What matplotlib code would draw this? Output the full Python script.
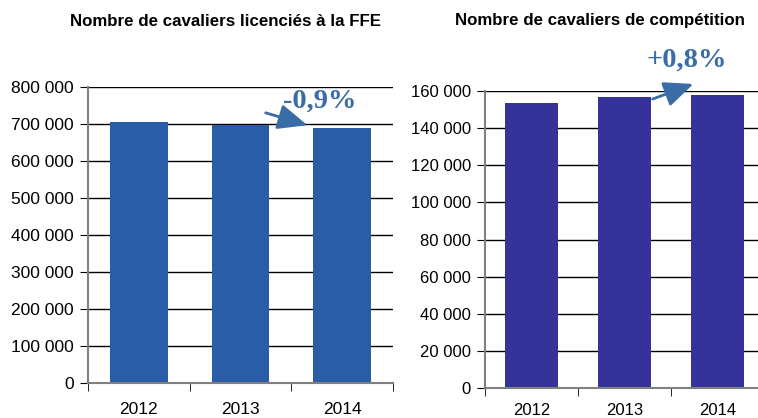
import numpy as np
import matplotlib.pyplot as plt
from matplotlib.patches import FancyArrowPatch

annees = ['2012', '2013', '2014']
licencies = [706000, 696000, 690000]
competition = [153500, 156800, 158000]

ticks_gauche = [0, 100000, 200000, 300000, 400000, 500000, 600000, 700000, 800000]
ticks_droite = [0, 20000, 40000, 60000, 80000, 100000, 120000, 140000, 160000]


def fmt(v):
    return f"{v:,}".replace(",", " ")


plt.rcParams['font.family'] = ['Liberation Sans', 'DejaVu Sans']

fig = plt.figure(figsize=(7.58, 4.18), dpi=100)

ax1 = fig.add_axes([88 / 758, 35 / 418, 305 / 758, 296 / 418])
ax2 = fig.add_axes([485 / 758, 30 / 418, 279 / 758, 297 / 418])


def style(ax, valeurs, couleur, yticks, taille, pad_x):
    x = np.arange(len(valeurs))
    ax.bar(x, valeurs, width=0.57, color=couleur, zorder=3)
    ax.set_xlim(-0.5, len(valeurs) - 0.5)
    ax.set_ylim(yticks[0], yticks[-1])
    ax.set_yticks(yticks)
    ax.set_yticklabels([fmt(v) for v in yticks], fontsize=taille)
    ax.set_xticks(x)
    ax.set_xticklabels(annees, fontsize=taille)
    ax.tick_params(axis='x', length=0, pad=pad_x)
    ax.set_xticks(np.arange(len(valeurs) + 1) - 0.5, minor=True)
    ax.tick_params(axis='x', which='minor', length=6, direction='out', color='black')
    ax.tick_params(axis='y', length=6, direction='out', color='black', pad=4)
    ax.grid(axis='y', color='black', linewidth=1, zorder=1)
    for s in ['top', 'right']:
        ax.spines[s].set_visible(False)
    for s in ['left', 'bottom']:
        ax.spines[s].set_color('#808080')
        ax.spines[s].set_linewidth(1.5)
        ax.spines[s].set_zorder(4)


style(ax1, licencies, '#2B5CA8', ticks_gauche, 12.5, 14)
style(ax2, competition, '#353399', ticks_droite, 12, 11)

fig.text(226 / 758, 1 - 21 / 418, 'Nombre de cavaliers licenciés à la FFE',
         ha='center', va='center', fontsize=12.2, fontweight='bold')
fig.text(600 / 758, 1 - 21 / 418, 'Nombre de cavaliers de compétition',
         ha='center', va='center', fontsize=12.2, fontweight='bold')

bleu = '#3A6CA6'
fig.text(320 / 758, 1 - 101 / 418, '-0,9%', ha='center', va='center',
         fontsize=20.5, fontweight='bold', color=bleu, family='Liberation Serif')
fig.text(687 / 758, 1 - 60 / 418, '+0,8%', ha='center', va='center',
         fontsize=20.5, fontweight='bold', color=bleu, family='Liberation Serif')

fleche = dict(arrowstyle='-|>,head_length=1.5,head_width=0.65', color=bleu, lw=2)
fig.patches.append(FancyArrowPatch(
    (263 / 758, 1 - 112 / 418), (310 / 758, 1 - 126 / 418),
    transform=fig.transFigure, mutation_scale=12, **fleche))
fig.patches.append(FancyArrowPatch(
    (650 / 758, 1 - 100 / 418), (696 / 758, 1 - 83 / 418),
    transform=fig.transFigure, mutation_scale=12, **fleche))

fig.savefig('out.png', dpi=100)
